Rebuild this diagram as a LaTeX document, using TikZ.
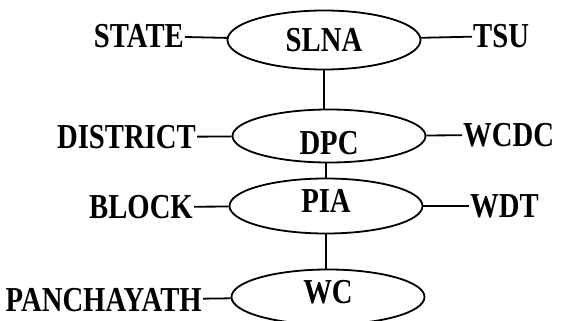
\documentclass[tikz,border=0pt]{standalone}
\usepackage{fontspec}
\setmainfont[FakeStretch=0.82]{Liberation Serif}
\usetikzlibrary{shapes.geometric}
\tikzset{unit/.style={draw,ellipse,line width=1.8pt,inner sep=0pt,minimum width=193pt,minimum height=55pt},
  tag/.style={font=\fontsize{35}{37}\selectfont\bfseries,inner sep=1pt},
  link/.style={line width=1.8pt}}

\begin{document}
\begin{tikzpicture}[x=1pt,y=1pt]
\useasboundingbox (0,0) rectangle (562,-321);
% agencies
\node[unit,minimum height=59pt,label={[tag]center:SLNA}] (slna) at (324,-40) {};
\node[unit,minimum height=53pt,label={[tag,yshift=-7pt]center:DPC}] (dpc) at (329,-136) {};
\node[unit,label={[tag,yshift=5pt]center:PIA}] (pia) at (326,-206) {};
\node[unit,label={[tag,yshift=5pt]center:WC}] (wc) at (328,-297) {};
% levels
\node[tag,anchor=east] (state) at (185,-36) {STATE};
\node[tag,anchor=east] (dist) at (197,-137) {DISTRICT};
\node[tag,anchor=east] (block) at (194,-207) {BLOCK};
\node[tag,anchor=east] (panch) at (203,-300) {PANCHAYATH};
\node[tag,anchor=west] (tsu) at (472,-36) {TSU};
\node[tag,anchor=west] (wcdc) at (462,-135) {WCDC};
\node[tag,anchor=west] (wdt) at (469,-206) {WDT};
\draw[link] (state) -- (slna);
\draw[link] (dist) -- (dpc);
\draw[link] (block) -- (pia);
\draw[link] (panch) -- (wc);
\draw[link] (slna) -- (tsu);
\draw[link] (dpc) -- (wcdc);
\draw[link] (pia) -- (wdt);
\draw[link] (slna.south) -- (slna.south |- dpc.north);
\draw[link] (pia.north |- dpc.south) -- (pia.north);
\draw[link] (pia.south) -- (pia.south |- wc.north);
\end{tikzpicture}
\end{document}
